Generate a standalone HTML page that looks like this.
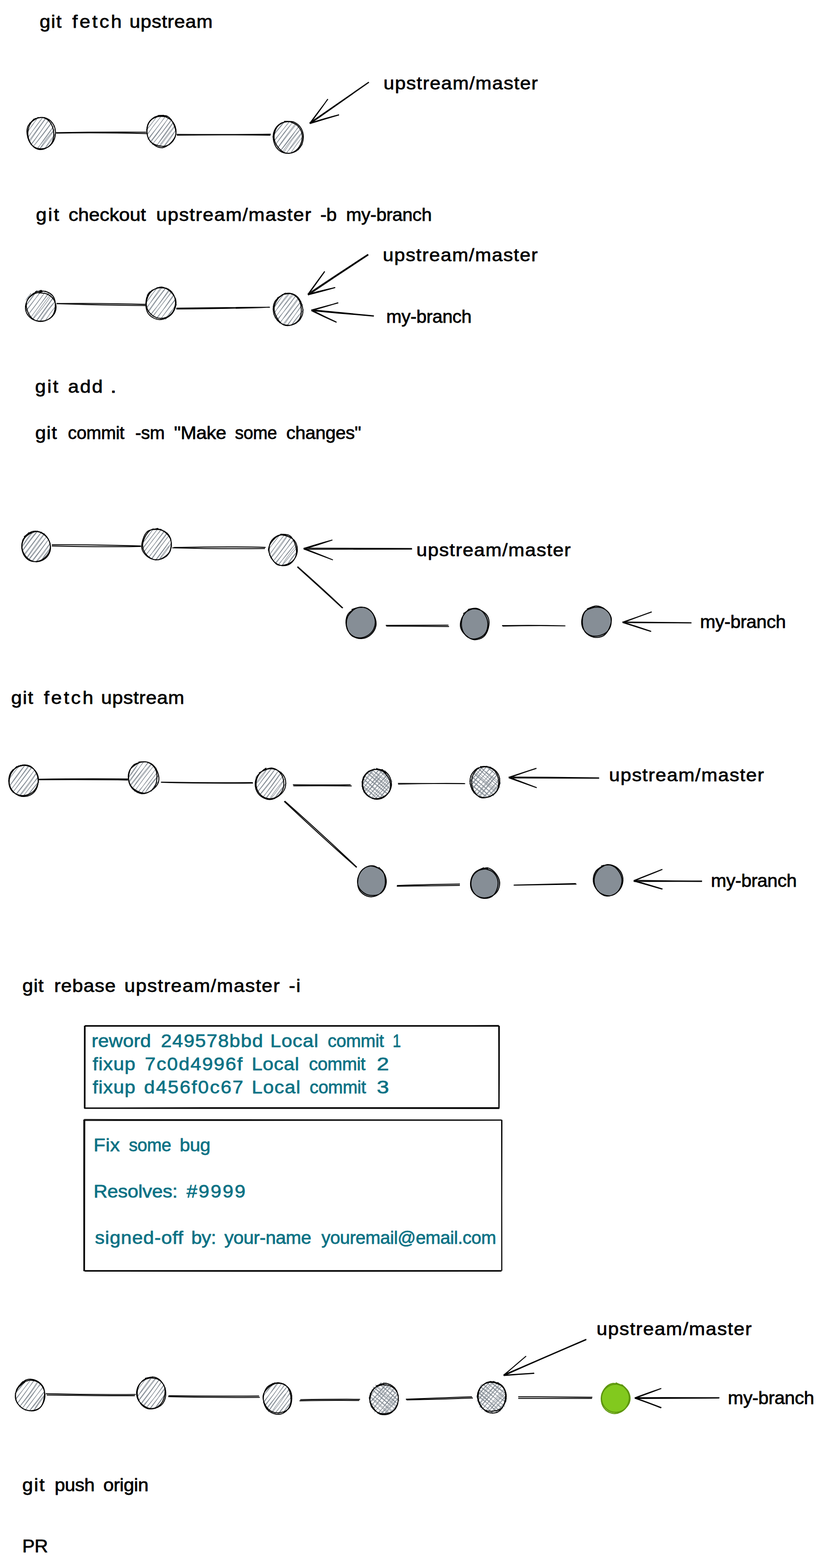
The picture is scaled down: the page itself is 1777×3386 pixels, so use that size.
<!DOCTYPE html>
<html lang="en">
<head>
<meta charset="utf-8">
<title>git workflow</title>
<style>
html,body{margin:0;padding:0;background:#fff}
svg{display:block}
text{font-family:"Liberation Sans",sans-serif;white-space:pre;stroke-width:0.8px;stroke-linejoin:round}
</style>
</head>
<body>
<svg width="1777" height="3386" viewBox="0 0 1777 3386">
<rect width="1777" height="3386" fill="#fff"/>
<text y="60" fill="#000" stroke="#000" font-size="38"><tspan x="85.4" textLength="49.1" lengthAdjust="spacingAndGlyphs" style="letter-spacing:1.49px">git</tspan> <tspan x="156" textLength="110.9" lengthAdjust="spacingAndGlyphs" style="letter-spacing:3.69px">fetch</tspan> <tspan x="279.5" textLength="180.4" lengthAdjust="spacingAndGlyphs" style="letter-spacing:0.7px">upstream</tspan></text>
<path d="M120.3 286.4C195.1 285.3 239.3 285.1 315.8 285.5M121.4 287.4C186.5 286.4 255 286.8 316.8 288.5" stroke="#000" stroke-width="2" fill="none"/>
<path d="M382 292.1C444.4 290.8 509.4 290.8 583.9 292.1M381.3 290.2C463.7 290.9 510.8 290.8 584.7 289.7" stroke="#000" stroke-width="2" fill="none"/>
<path d="M58.6 287.1Q68 270.9 81.2 255.6M58.3 285.5Q70.9 270.5 81.8 252.9M59.7 297.1Q76.5 275.2 92.5 253.7M59.6 298.9Q73.5 277.4 91.9 253.9M63.3 307.1Q82.2 278.8 99.5 255.2M61.8 305.2Q81.7 277.9 99 254.3M65.8 313.4Q85.7 288.1 105.1 258.9M67 313.4Q85.6 288 105.7 258.8M71.3 317Q91.3 291 111.6 264M71.6 316.5Q92.2 292.7 112.1 264.4M79.3 321.9Q100.3 297.6 117.3 270.5M80.3 322.4Q96.4 297.6 116.5 271.5M85.3 322.4Q99.7 298.2 118.5 279M85.6 322.1Q104.2 300.7 119.1 278.2M95.1 322.1Q109.3 307.8 120.1 288.7M95.7 322.4Q106.7 304.3 119.3 288.6" stroke="#868e96" stroke-width="1.2" fill="none"/><path d="M64.2 266.2C67.1 264.3 75.1 256.6 81.2 254.9C87.3 253.1 95 253 100.9 255.6C106.7 258.2 113.3 264.3 116.4 270.7C119.4 277 120.4 286.6 119.2 293.8C117.9 301 113.6 309.2 108.7 313.7C103.9 318.3 96.2 321 89.9 321.3C83.6 321.5 76 319.3 71 315.2C66 311.1 61.9 303.6 60 296.7C58.1 289.9 57.5 280.6 59.7 274C61.9 267.4 71.1 259.9 73.4 257.1M75.7 256.1C78.6 255.8 87.8 252.6 93.3 254C98.7 255.4 104.7 259.4 108.4 264.5C112.2 269.7 115.1 277.7 115.8 284.9C116.5 292 115.5 301.4 112.5 307.4C109.5 313.3 103.3 318.2 98 320.6C92.7 323 86 323.9 80.6 321.9C75.3 320 69.3 314.8 65.9 309C62.4 303.1 59.9 294.2 60.1 286.9C60.2 279.6 63.2 270.7 66.9 265.2C70.6 259.7 79.8 255.6 82.4 253.7" stroke="#000" stroke-width="2" fill="none" stroke-linecap="round" stroke-linejoin="round"/>
<path d="M315.9 281.8Q330.4 263.6 340.2 249.7M315.2 280.8Q329.6 266 339.1 250M318 290.9Q331.8 269.7 349.4 249.6M317.5 290.5Q334.5 267.4 350.1 248.5M320.7 300.6Q338 277.3 358.8 249.1M318.7 301Q338.9 276.3 358 250.7M325.6 306.5Q346.8 280.5 365.1 252.3M323.2 308.1Q342.1 283.4 363.9 255M328.4 312.3Q349.9 286.5 370.9 257.3M327.9 312.9Q351.2 285.7 371.3 258.3M337 315.5Q357.6 291.3 374.4 264.4M336.3 317.3Q355.9 288.4 374.3 263.3M343.3 318.8Q362.9 293.2 378.6 272M342 317.5Q357.4 296.3 377.5 271.1M350.5 320.5Q364.6 299.9 380.9 279.1M351.9 319.2Q367.8 301.8 379.9 280M365.9 313.6Q371.8 303.6 378.8 295.4M365.3 314.3Q369.9 306.1 378.2 295.1" stroke="#868e96" stroke-width="1.2" fill="none"/><path d="M341.3 249.4C344.6 249.7 355.9 247.9 361.5 251C367.1 254.1 371.9 261.4 374.9 268C377.9 274.6 380.6 283.7 379.4 290.6C378.2 297.5 372.7 304.9 367.7 309.6C362.7 314.4 355.7 318.7 349.5 319C343.3 319.3 335.8 315.6 330.6 311.3C325.4 306.9 320.3 299.9 318.3 292.9C316.4 286 316.5 276 319 269.3C321.6 262.7 328 256.3 333.7 252.9C339.4 249.5 350.1 249.6 353.4 249M353.3 250C356.1 251.7 366 255.4 370.4 260.2C374.8 265 378.6 272.1 379.6 278.7C380.7 285.3 379.5 294 376.4 299.9C373.4 305.8 367.1 311.6 361.2 314.1C355.4 316.5 347.8 316.1 341.6 314.5C335.3 312.9 327.8 309.6 323.8 304.4C319.7 299.2 317.5 290.4 317.4 283.4C317.4 276.3 319.5 267.5 323.5 262.2C327.4 256.9 334.9 253.3 341.1 251.7C347.3 250.1 357.3 252.3 360.6 252.5" stroke="#000" stroke-width="2" fill="none" stroke-linecap="round" stroke-linejoin="round"/>
<path d="M588.6 294.4Q602.6 278 613.5 264.1M588.2 296.6Q599 277.8 613.9 263.5M590.4 305.3Q609.5 281.6 625.6 262.1M591.6 305.3Q607.7 283.7 625.4 261.6M593.7 314.1Q611.6 286.8 633.3 262.8M593.1 314.3Q614.2 287.6 632.7 263M598.2 320.9Q616.1 294.7 638.7 266.2M599.3 320.4Q617.7 295.9 640 268.2M604.8 326.9Q626.1 301.7 645.5 271.7M604.4 326.9Q624.9 298.7 646.4 272M609.9 327.9Q628.7 300.1 650.8 276.4M611.9 330.2Q630 302.3 650.6 276.5M617.8 330.9Q637.9 308.7 653.1 285.9M618.1 332.4Q633.2 307.7 653.3 284.2M628.4 329.9Q640.9 309.4 655.8 293.1M628.1 329.5Q639.9 312.1 654.4 293.9M643.7 324.4Q648 317.3 653.4 311.9M644.3 323Q646.6 318.8 653.5 311.3" stroke="#868e96" stroke-width="1.2" fill="none"/><path d="M614.3 262C617.8 262.3 629.1 261.1 635.3 263.9C641.4 266.8 648.1 272.7 651.3 279.1C654.5 285.5 655.8 295.1 654.5 302.3C653.3 309.6 649.1 317.9 644 322.7C638.9 327.5 630.8 330.5 624 330.9C617.2 331.4 608.8 329.4 603.3 325.2C597.8 321 593 313 591.2 305.9C589.3 298.8 589.6 289.3 592.2 282.7C594.8 276.1 600.9 269.5 606.7 266.2C612.5 262.8 623.5 263.1 626.9 262.5M625.1 262.4C627.9 263.8 637.6 266.5 642.1 271.1C646.6 275.7 651.1 283.1 652.3 289.9C653.4 296.7 651.7 305.6 648.9 311.9C646.1 318.1 640.8 324.2 635.4 327.3C630 330.4 622.3 331.9 616.6 330.4C610.8 328.9 604.9 323.7 600.8 318.4C596.6 313 592.4 305.3 591.8 298.3C591.2 291.2 593.5 281.7 597.2 276C600.8 270.2 607.7 266.1 613.6 263.9C619.5 261.7 629.4 263.2 632.5 263" stroke="#000" stroke-width="2" fill="none" stroke-linecap="round" stroke-linejoin="round"/>
<path d="M796.7 177.7C749.5 211.1 707.4 240.7 669.4 267.3M796.2 177.3C751.8 207.7 708.4 237.7 668.3 265.9" stroke="#000" stroke-width="2" fill="none"/><path d="M668.6 266.5C683.2 247 693 234 708.1 214M669.7 266.6C686.9 243.5 695.3 231.8 707.6 214.1" stroke="#000" stroke-width="2" fill="none"/><path d="M669.6 266.9C695.8 258.7 711.6 254 731.8 248.4M669 265.9C692.4 258.5 711 253.1 732.1 247.6" stroke="#000" stroke-width="2" fill="none"/>
<text y="192.5" fill="#000" stroke="#000" font-size="38"><tspan x="828" textLength="334.7" lengthAdjust="spacingAndGlyphs" style="letter-spacing:1.28px">upstream/master</tspan></text>
<text y="477" fill="#000" stroke="#000" font-size="38"><tspan x="77.6" textLength="53" lengthAdjust="spacingAndGlyphs" style="letter-spacing:2.68px">git</tspan> <tspan x="147.9" textLength="167.3" lengthAdjust="spacingAndGlyphs">checkout</tspan> <tspan x="337.2" textLength="336.2" lengthAdjust="spacingAndGlyphs" style="letter-spacing:1.37px">upstream/master</tspan> <tspan x="691.4" textLength="35.5" lengthAdjust="spacingAndGlyphs" style="letter-spacing:-0.4px">-b</tspan> <tspan x="747.3" textLength="184.6" lengthAdjust="spacingAndGlyphs" style="letter-spacing:-0.4px">my-branch</tspan></text>
<path d="M122.3 655.6C201.1 654.9 244.6 655.3 314 657.2M122.1 655.7C187.8 658.1 238.8 659.2 314.2 659.7" stroke="#000" stroke-width="2" fill="none"/>
<path d="M380.8 665.5C467.9 664.4 518.7 663.9 582.8 663.5M380.6 667.3C455.5 666.9 528.6 665.5 581.4 663.4" stroke="#000" stroke-width="2" fill="none"/>
<path d="M55.7 647.6Q62.4 641.2 66.6 633.2M56.4 647.1Q59.9 641.4 67.1 634.3M54.3 663.2Q66.6 646.6 80.6 627.4M54 662.5Q67.2 643.7 79.8 626.6M57.1 671.1Q72.4 650.7 88.9 627.8M55.4 671.3Q73.5 648.3 90.9 626.8M60.2 680.4Q81.9 653.3 99.7 627.3M60.5 679.4Q81.7 652.5 98.2 629.3M65.8 686.2Q84.2 661 106.9 631.6M66.3 685.4Q87.3 657.1 105.5 631.5M72 688.4Q93.7 664.4 112 636.4M69.5 690.3Q89.9 660.2 109.7 634.8M79.3 693.1Q99.1 665.5 116.3 641.8M77.4 694Q97.9 665.2 115.4 641.3M87.7 693.6Q102.3 672.2 119.5 650.5M86.5 692.9Q100.9 669.9 119.7 650M97.9 691.8Q108.8 676.1 121 660.5M98 693.6Q107.3 675.9 121.4 660.4" stroke="#868e96" stroke-width="1.2" fill="none"/><path d="M76.7 629.9C80.1 629.7 90.8 627.2 97.1 629C103.5 630.7 111.3 634.8 115 640.3C118.7 645.7 119.7 654.7 119.4 661.6C119 668.6 117.1 676.9 113 682.2C109 687.4 101.6 691.8 95.1 693.3C88.6 694.7 80 694.1 74.2 690.9C68.4 687.7 63.2 680.7 60.4 674.3C57.6 667.9 55.8 659 57.4 652.4C59 645.9 64.8 639.4 70.1 635.2C75.4 630.9 85.8 628.4 89 627M83.1 632.2C86.4 632.7 97.3 632.6 103 635.5C108.7 638.3 114.5 643.7 117.4 649.3C120.3 655 121.9 663.1 120.5 669.3C119.1 675.6 114.3 682.7 109 686.7C103.8 690.8 95.7 693.3 88.9 693.6C82.1 693.8 73.8 691.9 68.2 688.1C62.7 684.4 57.5 677.4 55.8 671.2C54.1 665 55.3 656.9 57.8 651.1C60.3 645.2 65.5 639.6 71.1 636.1C76.6 632.6 87.8 630.9 91.1 629.8" stroke="#000" stroke-width="2" fill="none" stroke-linecap="round" stroke-linejoin="round"/>
<path d="M317.1 638.3Q320.2 631.7 325 628.3M317 637.3Q319.1 635.9 324.9 630M313.8 656Q325.2 638.1 341.1 620.4M313.8 656.3Q328.6 635.9 339.4 620.2M316.5 666.1Q330.5 644.4 348.7 618.5M315 666.1Q331.9 645 351.1 619.4M318.5 674.1Q335.7 648.8 357.8 621M320.3 673.9Q338.6 647 359.5 620.3M325.6 680Q345.3 654.8 365 625.2M323.4 681.2Q346.3 654.3 366.4 626.3M329.4 684.6Q349.2 658.1 372 629M329.2 683.7Q348.7 659.4 369.9 630.3M338.7 687.9Q356.8 663 375 635.9M337.2 687.9Q357.4 663.9 375.9 637.4M346.6 689.2Q363.9 666.6 380.6 645.2M346.8 689.4Q361.1 669.2 378.9 645.1M356.2 688.6Q367.8 674.4 382.1 657M357.1 690.3Q370 675.3 379.6 656.9" stroke="#868e96" stroke-width="1.2" fill="none"/><path d="M327.6 627.2C331.1 626 341.6 619.6 348.3 620C355.1 620.4 362.7 624.9 367.9 629.7C373.2 634.5 378.4 642 379.7 648.9C380.9 655.8 378.8 665.1 375.5 671.3C372.2 677.6 365.9 683.3 359.7 686.3C353.6 689.3 345.1 691 338.5 689.4C331.8 687.8 323.8 682.7 319.9 677C316 671.2 314.8 662.2 315 654.9C315.2 647.7 317.1 639.1 321.2 633.5C325.3 628 336.5 623.5 339.5 621.5M343.3 621.2C346.6 621.7 357.4 620.9 363 624.1C368.6 627.4 374.3 634.2 376.7 640.7C379.1 647.2 379.4 656.2 377.6 663C375.9 669.8 371.3 677.3 366.1 681.4C361 685.5 353.1 687.6 346.7 687.4C340.3 687.3 333 684.5 328 680.3C322.9 676.2 318 669 316.5 662.5C315 656 316.5 647.3 319.1 641.1C321.6 634.9 326.6 628.8 331.9 625.4C337.2 621.9 347.7 621 350.9 620.2" stroke="#000" stroke-width="2" fill="none" stroke-linecap="round" stroke-linejoin="round"/>
<path d="M590.1 667.1Q602.3 650 613 633.9M588.6 668Q599.3 652 614.5 633.5M590.4 676.9Q608.7 654.8 625.6 633.7M590.4 679.5Q605.6 653.6 624.7 631.9M593.6 687.2Q611 661.9 631.9 633.5M593.7 686.6Q612.3 660.3 634.2 635.4M597.3 691.1Q619.6 666.4 638.9 638.7M597.7 693.3Q616.9 666.8 638 639.1M602.9 698.1Q625 672.9 645.7 644.1M604.4 697.9Q624.7 668.1 644.3 642.9M610.4 701Q631.4 674.6 649.2 651.2M612.5 702.4Q630.7 675.8 650.7 650.4M620.3 704Q635.8 680.1 653.9 657.4M619 703.2Q638.2 679.7 652.5 656.5M629.5 703.3Q642.1 684.2 655.7 669.3M628.8 702.1Q643 683 655.6 668.5M645.4 693.4Q649.4 691.1 650.8 684.9M644.7 694.8Q647.3 690.8 648.9 684.8" stroke="#868e96" stroke-width="1.2" fill="none"/><path d="M598.9 643.7C602.1 642 611.3 634.5 618 633.6C624.6 632.7 633.2 634.5 638.7 638.2C644.2 642 648.8 649.5 651.2 656.3C653.6 663.1 655 672.2 653.2 679C651.3 685.8 645.7 693.3 640.2 697.2C634.6 701.1 626.5 702.9 619.9 702.3C613.4 701.7 605.9 698.4 601 693.7C596.1 688.9 591.8 681.2 590.5 674.1C589.3 667 590.3 657.4 593.5 651.2C596.7 644.9 607.1 639 609.9 636.6M609.4 636.2C612.4 635.9 622 632.8 627.7 634.3C633.4 635.7 639.8 639.9 643.6 645.1C647.4 650.3 649.9 658.4 650.4 665.5C651 672.6 650.3 681.7 647.1 687.7C643.9 693.6 637.1 698.7 631.3 701C625.5 703.3 617.5 703.9 612 701.4C606.4 698.9 601.4 692.4 598 686.3C594.7 680.2 591.5 671.9 591.9 665C592.3 658.1 596.4 650.2 600.5 644.9C604.5 639.6 613.5 635 616.1 633" stroke="#000" stroke-width="2" fill="none" stroke-linecap="round" stroke-linejoin="round"/>
<path d="M795.5 550.4C749 581 709.9 607 665.3 637.1M794.7 549.2C749.6 578.3 706.4 606.9 664.7 635" stroke="#000" stroke-width="2" fill="none"/><path d="M664.9 635.5C679 615.8 688.7 602.5 701.1 585.9M665.3 636.4C677.7 619.3 689.5 602.8 700.8 586.8" stroke="#000" stroke-width="2" fill="none"/><path d="M664.9 636.7C688.8 630.7 704.2 626.6 723.6 621M664.5 635.4C689.5 628.9 707.9 624.5 723.8 621.1" stroke="#000" stroke-width="2" fill="none"/>
<path d="M807.2 682.7C748.4 677.9 724.3 675.7 672.6 670.8M807.3 682C758.4 677.2 714 672.9 672.4 669.1" stroke="#000" stroke-width="2" fill="none"/><path d="M672.5 669.4C697.8 662.6 708 659.9 730.5 654M673 670.5C698 663.6 715.2 658.5 729.7 653.8" stroke="#000" stroke-width="2" fill="none"/><path d="M672.4 670.8C695.8 682.3 705.5 686.8 726.7 696.2M673 669.5C690.3 678.5 707.8 687 726.2 695.5" stroke="#000" stroke-width="2" fill="none"/>
<text y="563.5" fill="#000" stroke="#000" font-size="38"><tspan x="826.5" textLength="335.8" lengthAdjust="spacingAndGlyphs" style="letter-spacing:1.35px">upstream/master</tspan></text>
<text y="697" fill="#000" stroke="#000" font-size="38"><tspan x="834.1" textLength="183.9" lengthAdjust="spacingAndGlyphs" style="letter-spacing:-0.4px">my-branch</tspan></text>
<text y="848" fill="#000" stroke="#000" font-size="38"><tspan x="75.7" textLength="53.1" lengthAdjust="spacingAndGlyphs" style="letter-spacing:2.72px">git</tspan> <tspan x="147.1" textLength="77.3" lengthAdjust="spacingAndGlyphs" style="letter-spacing:2.28px">add</tspan> <tspan x="238.1" textLength="13.7" lengthAdjust="spacingAndGlyphs">.</tspan></text>
<text y="948" fill="#000" stroke="#000" font-size="38"><tspan x="76" textLength="48.2" lengthAdjust="spacingAndGlyphs" style="letter-spacing:1.22px">git</tspan> <tspan x="146.5" textLength="121.9" lengthAdjust="spacingAndGlyphs" style="letter-spacing:-0.4px">commit</tspan> <tspan x="292" textLength="63.4" lengthAdjust="spacingAndGlyphs" style="letter-spacing:-0.4px">-sm</tspan> <tspan x="375.8" textLength="112.7" lengthAdjust="spacingAndGlyphs" style="letter-spacing:-0.4px">&quot;Make</tspan> <tspan x="507.2" textLength="90.8" lengthAdjust="spacingAndGlyphs" style="letter-spacing:-0.4px">some</tspan> <tspan x="618.1" textLength="161.5" lengthAdjust="spacingAndGlyphs" style="letter-spacing:-0.4px">changes&quot;</tspan></text>
<path d="M112 1178.9C176.5 1180.6 253 1181 304.5 1179.9M112 1176.2C187.6 1176.1 232 1176.8 304.3 1178.9" stroke="#000" stroke-width="2" fill="none"/>
<path d="M372.1 1183C448.1 1184.9 512 1185.3 572 1184.4M375.4 1182.3C463 1180.7 521.3 1180.6 573.5 1181.9" stroke="#000" stroke-width="2" fill="none"/>
<path d="M48.1 1166.4Q51.4 1161.7 58.4 1154M49.7 1165.1Q52.9 1161.4 57.6 1153.4M46.9 1182.2Q59.5 1163.9 72.3 1147.7M46.9 1181.8Q56.6 1164.5 70.3 1147.4M47.9 1190.9Q63.6 1168.6 81.4 1147M47.8 1189.7Q63.7 1165.6 81.2 1145.6M52.4 1199.6Q70.8 1175.2 89.1 1150M50.5 1199.2Q68.6 1175.8 90.1 1147.9M56.6 1206Q75.5 1176.7 96.1 1151.4M57.8 1205.7Q77.9 1178.4 96.6 1152.3M62.1 1209.1Q81.9 1186.1 100.4 1158.7M61.3 1209.2Q79.2 1183.8 101.8 1157.6M70.5 1211.9Q88 1188.6 106 1163.3M68.8 1211.3Q88 1187.8 105.3 1164.2M78.2 1214.2Q96 1194.4 109.1 1172.3M77.7 1212.9Q91.7 1195.2 108.1 1173M88.6 1211.5Q96.9 1196.5 108.6 1183.6M89 1210.4Q97.6 1200 108.4 1185.7" stroke="#868e96" stroke-width="1.2" fill="none"/><path d="M52.4 1158.8C55.3 1156.9 63.8 1149.1 70 1147.7C76.2 1146.2 83.7 1147.2 89.4 1149.9C95.1 1152.6 100.9 1158 104.1 1164C107.2 1169.9 109.5 1178.9 108.3 1185.6C107.2 1192.2 102.1 1199.3 97.3 1203.8C92.5 1208.3 85.8 1211.8 79.5 1212.5C73.3 1213.2 65.1 1211.8 59.8 1207.9C54.6 1204.1 49.9 1196.3 48.1 1189.5C46.3 1182.8 46.8 1173.8 49.1 1167.3C51.5 1160.7 60 1153.1 62.2 1150.3M61.2 1154C64.3 1153 74 1147.4 80.1 1147.9C86.2 1148.3 93.1 1152.4 97.8 1156.8C102.4 1161.1 106.7 1167.6 108.2 1173.9C109.6 1180.3 109.2 1188.8 106.5 1194.7C103.9 1200.7 98 1206.7 92.3 1209.7C86.6 1212.6 78.5 1213.8 72.4 1212.4C66.3 1211.1 59.8 1206.5 55.7 1201.5C51.5 1196.6 48.2 1189.3 47.6 1182.9C47.1 1176.5 49 1168.4 52.4 1162.9C55.7 1157.4 65.2 1151.9 67.7 1149.7" stroke="#000" stroke-width="2" fill="none" stroke-linecap="round" stroke-linejoin="round"/>
<path d="M306.4 1174.8Q318.3 1158.5 331.4 1142.3M306.5 1174.4Q320.2 1159.7 331.1 1140.6M305.8 1186.1Q323.5 1164.5 341 1141.4M307.8 1186Q322.8 1165 340.6 1142.1M311.1 1192.4Q328.4 1166.2 350.1 1142.2M310.1 1192.1Q330.3 1166.5 348.5 1142.4M314.1 1200Q333.9 1174.5 356.5 1145.9M314.6 1198.5Q335.9 1173.2 354.2 1146.6M320.8 1203.3Q342.2 1178.3 362.3 1150.1M321.5 1204Q339.1 1179 360.4 1150.7M328.2 1206.8Q346.4 1179.7 365.3 1155.8M325.9 1208Q344.4 1181.8 365 1155.8M335.5 1209.6Q353.9 1185.3 368.7 1165.3M336.1 1210.3Q354.6 1187.4 369.9 1163.1M342.5 1210Q354.9 1189.4 371.2 1172.4M343.2 1209.5Q358.8 1192.3 370.3 1172.1M358.1 1203.3Q365.6 1197.2 369.2 1188.2M357.9 1202.1Q364.7 1194.7 369 1187.8" stroke="#868e96" stroke-width="1.2" fill="none"/><path d="M327.6 1143.5C331.1 1143.6 342.2 1142.2 348.5 1144.5C354.8 1146.8 362 1151.5 365.5 1157.2C369 1162.9 370.2 1171.6 369.6 1178.5C368.9 1185.4 365.9 1193.5 361.4 1198.5C356.9 1203.5 349.1 1207.5 342.5 1208.4C335.8 1209.4 327.5 1207.6 321.6 1204.1C315.7 1200.6 309.3 1193.9 307.1 1187.5C304.9 1181.1 306.3 1172.3 308.4 1165.5C310.4 1158.8 314.1 1150.8 319.4 1146.8C324.7 1142.8 336.9 1142.6 340.4 1141.8M339.1 1141C342.1 1142.4 352 1145.4 357 1149.7C362 1153.9 367.1 1160.1 368.9 1166.5C370.7 1172.9 370.3 1182 367.8 1188.1C365.4 1194.2 359.6 1199.8 354.2 1203.3C348.9 1206.7 341.8 1209.5 335.7 1208.9C329.6 1208.3 322.4 1204.5 317.8 1199.8C313.2 1195 309 1187.2 308.2 1180.5C307.4 1173.8 310 1165.6 313.1 1159.5C316.2 1153.3 321.1 1146.5 326.7 1143.8C332.3 1141.1 343.3 1143.2 346.6 1143.1" stroke="#000" stroke-width="2" fill="none" stroke-linecap="round" stroke-linejoin="round"/>
<path d="M577.9 1188.4Q593.3 1170.2 605.1 1153.4M579.1 1187.9Q592 1170.1 605.5 1153.1M581.7 1197.7Q598.6 1174.3 615.5 1153.2M580.8 1199.6Q597.1 1176 615 1154.2M584.4 1206.2Q604.8 1182.1 622.9 1154.1M584.2 1204.6Q601.4 1181.4 621.6 1154M589.4 1213Q610.3 1186.9 630 1159.5M589.5 1212.5Q610.3 1185.2 629.4 1158.3M594 1216.3Q615.7 1191.6 633.4 1165.4M594.7 1218.1Q613.9 1190.5 635.5 1164.8M601.4 1220.2Q618.2 1196.6 639.4 1172.4M600.6 1219.3Q622.3 1195.1 639.8 1171.4M609 1222Q625.8 1200.6 643 1180M608.2 1222.2Q622.1 1197.5 640.9 1177.7M619 1221.7Q628.4 1204.1 641.5 1191.4M620.7 1219.6Q629.8 1205.9 643.3 1189.5" stroke="#868e96" stroke-width="1.2" fill="none"/><path d="M606.5 1153.5C609.7 1154.1 620.6 1153.2 625.7 1156.9C630.9 1160.5 634.9 1168.5 637.2 1175.3C639.5 1182.2 641.1 1191.3 639.5 1198.2C637.9 1205.2 632.6 1213 627.5 1216.8C622.4 1220.7 614.8 1222 608.8 1221.4C602.9 1220.7 596.4 1217.5 591.8 1212.9C587.3 1208.3 582.7 1200.9 581.4 1193.9C580.1 1186.9 581.2 1177.2 584.2 1171C587.2 1164.8 593.7 1159.6 599.3 1156.9C604.9 1154.2 614.8 1155 617.9 1154.7M618.4 1157C621.3 1158.7 631.7 1162 635.7 1167.1C639.6 1172.2 642 1180.8 642 1187.5C642 1194.2 639.3 1202.2 635.6 1207.4C631.8 1212.6 625.5 1216.6 619.5 1218.7C613.6 1220.7 605.5 1222 599.9 1219.7C594.4 1217.4 589.5 1210.6 586.1 1204.7C582.8 1198.9 579.4 1191.1 580 1184.7C580.6 1178.3 585.4 1171.3 589.7 1166.4C594.1 1161.5 600.3 1156.4 606.2 1155.3C612.2 1154.1 622.3 1158.8 625.5 1159.5" stroke="#000" stroke-width="2" fill="none" stroke-linecap="round" stroke-linejoin="round"/>
<path d="M889.7 1185.8C798.5 1186.2 715.5 1186.4 656.3 1186.2M889.5 1184.4C798.4 1183.9 718.1 1183.7 656.1 1183.8" stroke="#000" stroke-width="2" fill="none"/><path d="M655.3 1184.5C681.6 1176.2 700 1170.8 717.4 1166.2M656.4 1185.7C678.1 1179.2 694.1 1174.1 717.7 1166" stroke="#000" stroke-width="2" fill="none"/><path d="M655.7 1185.3C676.6 1193.2 696 1200.5 718.8 1209.1M656.4 1184.4C680.7 1193.7 702.4 1202.3 718.8 1209.2" stroke="#000" stroke-width="2" fill="none"/>
<text y="1201" fill="#000" stroke="#000" font-size="38"><tspan x="899" textLength="334.7" lengthAdjust="spacingAndGlyphs" style="letter-spacing:1.28px">upstream/master</tspan></text>
<path d="M642.5 1223.4C673 1250.3 716.3 1290 740.4 1312.9M642.1 1224.4C679 1257.7 700.9 1277.6 739.2 1313" stroke="#000" stroke-width="2" fill="none"/>
<ellipse cx="779.5" cy="1345" rx="32.3" ry="33.3" fill="#868e96"/><path d="M753.7 1323.9C756.7 1322 765.2 1314.3 771.7 1312.6C778.2 1310.9 786.9 1310.8 792.8 1313.6C798.8 1316.4 804.5 1323.2 807.6 1329.5C810.8 1335.8 812.9 1344.6 811.7 1351.5C810.5 1358.3 805.6 1366.1 800.4 1370.7C795.2 1375.3 787.2 1378.7 780.4 1379C773.6 1379.3 764.8 1376.9 759.5 1372.7C754.3 1368.4 750.2 1360.3 748.7 1353.5C747.2 1346.8 748 1338.4 750.5 1332.1C753 1325.9 761.7 1318.7 763.9 1316M759.7 1316.1C763 1315.3 773 1310.6 779.5 1311C786 1311.4 793.9 1313.9 798.9 1318.3C803.9 1322.6 808.2 1330.2 809.5 1336.9C810.9 1343.5 809.8 1352.3 806.9 1358.4C804 1364.4 798 1370.2 792.1 1373.4C786.3 1376.5 778.1 1378.3 771.7 1377.1C765.3 1375.9 757.9 1371.2 753.8 1366.1C749.7 1361 747.5 1353 747.1 1346.3C746.7 1339.7 748.1 1331.7 751.4 1326.2C754.8 1320.7 764.5 1315.6 767.2 1313.5" stroke="#000" stroke-width="2" fill="none" stroke-linecap="round" stroke-linejoin="round"/>
<ellipse cx="1025" cy="1347.5" rx="30.8" ry="33.3" fill="#868e96"/><path d="M1001.1 1324.7C1004.2 1323.1 1013.3 1316 1019.7 1315C1026.1 1314 1033.8 1315.6 1039.6 1318.7C1045.4 1321.9 1051.8 1327.8 1054.3 1333.9C1056.8 1340.1 1056.2 1348.8 1054.6 1355.6C1053 1362.4 1049.6 1370.3 1044.5 1374.7C1039.5 1379 1030.8 1381.9 1024.3 1381.5C1017.9 1381 1010.8 1376.5 1005.8 1372C1000.8 1367.4 995.7 1360.7 994.4 1354.2C993.1 1347.8 995.2 1339.4 998 1333.2C1000.9 1326.9 1009 1319.3 1011.2 1316.5M1012.1 1315.5C1015.3 1315.2 1025.4 1312.3 1031.1 1314.1C1036.7 1315.9 1042.5 1320.9 1046.2 1326.3C1049.9 1331.6 1053 1339.4 1053.3 1346.2C1053.6 1353 1051.6 1361.8 1048.1 1367.1C1044.6 1372.5 1037.9 1376.5 1032.3 1378.3C1026.6 1380.2 1019.5 1380.4 1014.2 1378.1C1008.8 1375.8 1003.2 1370.2 1000.2 1364.5C997.2 1358.8 995.9 1350.7 996.4 1344C996.9 1337.2 999.3 1329.1 1003.1 1324.3C1007 1319.4 1016.8 1316.4 1019.5 1314.8" stroke="#000" stroke-width="2" fill="none" stroke-linecap="round" stroke-linejoin="round"/>
<ellipse cx="1288" cy="1342.5" rx="31.8" ry="33.3" fill="#868e96"/><path d="M1267.8 1314.9C1271.1 1313.8 1281.1 1308.4 1287.6 1308.5C1294 1308.6 1301.2 1311.6 1306.5 1315.7C1311.8 1319.8 1317.9 1326.6 1319.5 1333.2C1321.1 1339.8 1318.8 1348.8 1316.1 1355.4C1313.3 1362 1308.7 1369.3 1303 1372.8C1297.3 1376.2 1288.5 1377.3 1281.9 1375.9C1275.3 1374.6 1267.5 1370 1263.4 1364.6C1259.4 1359.1 1257.5 1350.3 1257.3 1343.2C1257.2 1336.1 1258.8 1327.5 1262.4 1322C1266.1 1316.5 1276.7 1312 1279.5 1310M1275.5 1312.1C1279.1 1312.1 1290.3 1310 1296.8 1311.9C1303.3 1313.7 1310.5 1318 1314.4 1323.2C1318.2 1328.3 1320 1336.3 1319.8 1342.7C1319.6 1349.1 1317.2 1356.7 1313.2 1361.6C1309.2 1366.5 1302.2 1370.4 1295.9 1372.1C1289.5 1373.9 1281 1374.5 1275 1372.2C1268.9 1369.8 1262.4 1363.8 1259.3 1358.2C1256.2 1352.5 1255.5 1344.7 1256.3 1338.2C1257.1 1331.7 1259.6 1323.7 1264.2 1319.2C1268.8 1314.7 1280.5 1312.7 1283.8 1311.4" stroke="#000" stroke-width="2" fill="none" stroke-linecap="round" stroke-linejoin="round"/>
<path d="M832.9 1350.6C886.3 1350.4 930.1 1350.3 968.3 1350.1M834.2 1351.9C880.1 1352.1 920.2 1352.5 969.5 1353.1" stroke="#000" stroke-width="2" fill="none"/>
<path d="M1085.3 1351.9C1125.9 1351 1183.5 1350.8 1220.7 1351.4M1084 1351C1128.4 1350.4 1181.1 1350.6 1219.7 1351.5" stroke="#000" stroke-width="2" fill="none"/>
<path d="M1493 1344.7C1430.3 1343.9 1390.7 1343.5 1344.2 1343.3M1493 1345.2C1441.2 1344.6 1385.6 1344.4 1345.1 1344.5" stroke="#000" stroke-width="2" fill="none"/><path d="M1343.8 1343.6C1366.5 1336 1383.6 1330 1407.2 1321.2M1344.5 1344.7C1369.8 1334.9 1389.6 1327.6 1407.1 1321.5" stroke="#000" stroke-width="2" fill="none"/><path d="M1344.6 1344.3C1367.8 1351.7 1386.3 1357.5 1406 1363.8M1344.8 1343.5C1370.6 1351.5 1381.6 1355.1 1405.5 1363.1" stroke="#000" stroke-width="2" fill="none"/>
<text y="1356" fill="#000" stroke="#000" font-size="38"><tspan x="1511.6" textLength="184.9" lengthAdjust="spacingAndGlyphs" style="letter-spacing:-0.4px">my-branch</tspan></text>
<text y="1520" fill="#000" stroke="#000" font-size="38"><tspan x="24.1" textLength="49.1" lengthAdjust="spacingAndGlyphs" style="letter-spacing:1.49px">git</tspan> <tspan x="94.7" textLength="110.9" lengthAdjust="spacingAndGlyphs" style="letter-spacing:3.69px">fetch</tspan> <tspan x="218.2" textLength="180.4" lengthAdjust="spacingAndGlyphs" style="letter-spacing:0.7px">upstream</tspan></text>
<path d="M84.1 1683.8C149.6 1683.1 212.8 1683.3 276.2 1684.4M83.8 1682.7C148.6 1681.7 219.6 1681.5 277.7 1682.2" stroke="#000" stroke-width="2" fill="none"/>
<path d="M347.6 1688.9C417 1690.1 473.6 1690.4 545.6 1690.1M347.6 1689.5C408.8 1691 482.2 1691.5 546.3 1690.9" stroke="#000" stroke-width="2" fill="none"/>
<path d="M632.5 1694.4C684.4 1695.3 724.8 1695.4 757.1 1694.5M633.4 1697.1C684 1696.7 714.1 1696.7 759.4 1697.2" stroke="#000" stroke-width="2" fill="none"/>
<path d="M24.5 1668Q25.3 1667.3 26.8 1662.2M22.7 1667.1Q25.8 1666.4 27.9 1661M17.6 1686.8Q29 1667.3 44.3 1651.5M17.6 1686.6Q28.5 1669.4 43.6 1651.7M20.5 1697.9Q38.8 1674.3 55.1 1651.1M20.3 1698Q36.1 1673.3 54.6 1651.4M23.5 1705.5Q44.2 1678.2 61.2 1653.5M24 1705.2Q42 1681.6 62 1655.3M27.2 1711.9Q47.3 1683.6 68.6 1656M29 1709.7Q49.7 1682.4 68 1658.5M33.6 1715.8Q55.7 1689.4 74.6 1662.9M34.7 1716Q56.3 1690 75 1661.8M40.6 1719.9Q59.7 1694.7 78 1669.5M42.9 1719.1Q62.9 1694.8 79.1 1669.6M49.6 1720.2Q65.8 1698.4 83.2 1676.1M49.4 1719.8Q66.4 1698.4 83.4 1677.6M58.7 1718.2Q69.3 1704.6 84 1686.9M58.8 1720.2Q70.3 1703.7 84.7 1687.9" stroke="#868e96" stroke-width="1.2" fill="none"/><path d="M26.3 1664.5C29.3 1662.6 37.8 1654.7 44.3 1653.1C50.7 1651.4 59.3 1651.5 65.2 1654.5C71 1657.6 76.5 1664.8 79.3 1671.3C82.1 1677.8 83.1 1686.5 81.8 1693.5C80.5 1700.4 76.4 1708.4 71.4 1712.8C66.4 1717.3 58.3 1719.9 51.8 1720C45.4 1720.1 37.7 1717.3 32.5 1713.1C27.3 1709 22.3 1701.7 20.7 1695C19 1688.2 20.2 1679.4 22.8 1672.8C25.3 1666.2 33.7 1658.3 35.9 1655.4M33.1 1657.9C36.5 1657.1 46.5 1652.4 53 1652.8C59.6 1653.3 67.4 1656.2 72.4 1660.6C77.3 1665 81.7 1672.7 82.7 1679.3C83.8 1685.9 81.8 1694.2 78.7 1700.1C75.6 1706 69.8 1711.6 64 1714.5C58.2 1717.4 50.2 1718.6 43.8 1717.4C37.3 1716.2 29.5 1712.3 25.4 1707.3C21.2 1702.2 19.2 1693.9 19 1687.1C18.8 1680.4 20.5 1672.6 24 1667.1C27.6 1661.5 37.5 1656 40.1 1653.8" stroke="#000" stroke-width="2" fill="none" stroke-linecap="round" stroke-linejoin="round"/>
<path d="M277.6 1679.4Q291.1 1663.1 300.7 1645M277.1 1679.9Q287.7 1661.8 301.8 1645.8M277.6 1688.4Q294.4 1666 310.2 1645.1M278.9 1689.6Q295.8 1666.1 309.8 1644.5M279.7 1697Q301 1670.2 320.7 1646.4M281.1 1697.7Q300.2 1674.6 319.1 1646.6M285.6 1702.8Q303.8 1674.4 325.9 1650.1M284.9 1703.9Q307.9 1674.6 327.8 1649.7M291.7 1707.7Q310.7 1679.2 332.9 1652.9M289.8 1709.4Q310.9 1680.6 332.5 1652.9M298 1711.8Q318.7 1683.8 338.2 1658.3M295.6 1712.8Q318.8 1687 337.9 1658M304.5 1715.1Q321.4 1690.2 340.8 1666.5M304.9 1713Q322.5 1691.1 340.3 1666.3M311.9 1713.8Q326.1 1694.7 342.5 1675M311.8 1714.3Q325.2 1692 343 1673.5M325.5 1709.5Q332.4 1696 342 1687.1M326.3 1709.8Q332.1 1697.9 341.9 1688.3" stroke="#868e96" stroke-width="1.2" fill="none"/><path d="M286.2 1655.7C289.4 1654 298.3 1646.5 305.1 1645.4C311.8 1644.3 320.7 1645.5 326.5 1649C332.4 1652.6 337.4 1660 340 1666.7C342.6 1673.4 344.1 1682.7 342.1 1689.3C340 1695.9 333.6 1702.3 327.8 1706.4C321.9 1710.5 313.9 1714.4 307.2 1714C300.4 1713.6 292.2 1709.1 287.2 1704.2C282.3 1699.3 278.6 1691.4 277.5 1684.5C276.3 1677.5 277.3 1668.6 280.5 1662.5C283.7 1656.5 294.1 1650.7 296.8 1648.3M299.8 1645.5C303.1 1645.6 313.6 1643.9 319.5 1646.3C325.3 1648.7 331.8 1654 335 1659.8C338.2 1665.6 339.2 1674.1 338.8 1681.1C338.3 1688.1 336.3 1696.5 332.3 1701.7C328.2 1706.9 320.8 1711.4 314.6 1712.4C308.5 1713.4 301.2 1711.1 295.5 1707.9C289.8 1704.7 283.4 1699.5 280.6 1693.3C277.7 1687.2 277.1 1678 278.5 1671C279.8 1664.1 283.8 1656.1 288.7 1651.8C293.5 1647.4 304.3 1646.3 307.4 1645.2" stroke="#000" stroke-width="2" fill="none" stroke-linecap="round" stroke-linejoin="round"/>
<path d="M551.5 1678.7Q559.4 1670.7 564.5 1665.5M551.6 1681.1Q558.7 1674.9 562.7 1666.1M550.9 1693.5Q563.2 1675.9 576.6 1659.8M551.2 1694.6Q566.2 1679.1 577.6 1659.3M551.7 1704.7Q567 1683.1 587 1659.4M552 1705.2Q567.1 1681.3 586.1 1659.4M555.9 1710.3Q575.8 1684.6 594.7 1659.5M556.3 1710.1Q576.2 1687.2 594.9 1659.9M559.7 1717.2Q581.4 1691.1 601.4 1664.2M561.7 1716.1Q583.9 1691.6 602 1663.5M567.1 1723.2Q586.6 1696.2 607.9 1666.4M566.1 1723Q589.1 1696.3 607.1 1668.4M573.1 1724.5Q592.4 1698.8 613.2 1673.1M573.6 1725.9Q593.8 1698.1 612.3 1673.3M582.4 1727.5Q601.4 1705.5 615.8 1680.2M581.6 1725.8Q596.9 1702.6 614.9 1681.8M591.6 1725.3Q602.3 1709.8 616.7 1692.5M592.5 1725.6Q606.4 1706.4 618.4 1690.8" stroke="#868e96" stroke-width="1.2" fill="none"/><path d="M559.7 1668.9C563 1667.5 572.6 1661.2 579.4 1660.4C586.2 1659.6 594.3 1660.8 600.3 1664.1C606.3 1667.4 612.7 1673.8 615.2 1680.2C617.7 1686.6 617.5 1696 615.2 1702.5C612.9 1708.9 607.2 1715 601.5 1719.1C595.8 1723.1 587.8 1726.8 581 1726.5C574.2 1726.2 565.7 1722.2 560.7 1717.4C555.8 1712.5 552.1 1704.4 551.2 1697.6C550.3 1690.8 552.1 1682.6 555.3 1676.6C558.5 1670.6 568.1 1663.9 570.6 1661.3M567.9 1663.6C571.1 1662.7 581 1657.7 587.2 1658.6C593.3 1659.4 600.5 1663.8 604.7 1668.7C609 1673.6 611.8 1681.3 612.5 1687.9C613.3 1694.5 612.1 1702.7 609.1 1708.4C606 1714.2 600.1 1720 594.4 1722.5C588.6 1725 580.6 1725.4 574.7 1723.5C568.7 1721.7 562.4 1716.8 558.7 1711.5C555.1 1706.2 552.7 1698.3 552.8 1691.8C552.9 1685.3 555.5 1677.9 559.1 1672.4C562.7 1666.8 571.9 1661 574.4 1658.7" stroke="#000" stroke-width="2" fill="none" stroke-linecap="round" stroke-linejoin="round"/>
<path d="M782.9 1679.4Q788.1 1672.4 797.3 1665.6M784.1 1677.5Q792 1671.3 795.7 1663.6M782.8 1694.2Q793.9 1674.2 808.5 1659M782.2 1694.8Q796.1 1678.6 808.7 1658.8M781.7 1704.6Q800.2 1681.3 820.4 1661.1M784 1702.9Q800.8 1683.3 818.8 1660.4M784.2 1710.5Q806.4 1689 826.5 1663.5M787.5 1710.2Q805.8 1686.1 826.1 1661.1M790.4 1714.3Q808.9 1688.4 831.5 1667.2M789.5 1714.4Q812.7 1690.8 832.5 1663.7M795 1719.7Q816 1694.3 837.8 1670.5M795.1 1721.1Q815.1 1695.5 838.4 1671.9M801.7 1723.3Q820.1 1698.9 840.3 1674.8M803.1 1725.4Q825.2 1702.3 842.7 1678M807.8 1726.7Q826.8 1707.3 845 1683.4M809.4 1726.6Q828.6 1702.7 843.9 1683.5M818.6 1725.8Q830.8 1710 844.3 1693.4M817.7 1726.1Q829.9 1707.7 846 1692.4M834.2 1717.3Q836.3 1713.5 842.5 1709.3M833.1 1718.7Q837.6 1712 841.4 1709.2M826.2 1662.7Q833.7 1667.8 837.5 1672.4M828.5 1664Q834.2 1667.2 837.6 1674.4M811.6 1658.6Q830.7 1671.5 847.1 1688M813 1658.1Q826.3 1673.2 844.5 1687.3M802.9 1662Q824.7 1681.8 845.4 1697.9M803.9 1662.8Q826.6 1678.3 847 1695.3M797 1666Q820.9 1687.3 842.4 1704.2M797.1 1663.2Q820.9 1684.7 844.1 1703.2M792.8 1669.5Q816.1 1691.2 840 1709.5M791.5 1667.5Q816.9 1686.8 839.2 1709.2M786 1675Q813 1695.2 836.2 1715M787.4 1675.5Q812 1693.2 838.3 1714.5M784.8 1681.8Q808.8 1701.7 829.6 1719.7M783.1 1680.7Q806 1703.2 830 1722.1M780 1687.9Q802.1 1704.6 823.3 1725.8M780.3 1688Q801.7 1705.6 824.2 1724.7M781.7 1695.9Q800.8 1708.7 815 1726M780.1 1697.1Q798 1710 815.9 1725.3M785.2 1710.5Q795.9 1718.2 805.9 1723.2M786.5 1709.9Q794.9 1716.5 804.6 1725.4" stroke="#868e96" stroke-width="1.2" fill="none"/><path d="M813.5 1660C816.9 1661.2 828.5 1663.1 833.6 1667.4C838.8 1671.7 842.9 1679.2 844.3 1685.8C845.7 1692.3 845 1700.9 842.1 1706.8C839.2 1712.7 832.8 1718.3 826.8 1721.2C820.8 1724.1 812.5 1725.5 806.1 1724.1C799.6 1722.7 792.4 1717.9 788.3 1712.8C784.3 1707.6 782.1 1699.7 782 1693.2C781.9 1686.6 784 1678.7 787.8 1673.5C791.7 1668.3 798.7 1663.9 805.1 1662C811.6 1660.2 822.9 1662.3 826.4 1662.3M827.6 1665.9C829.6 1668.5 837.3 1675.1 839.8 1681.1C842.4 1687.1 844.1 1695.6 842.8 1702C841.5 1708.4 836.7 1715.6 831.9 1719.6C827 1723.6 819.8 1726 813.8 1726C807.9 1726 801 1723.4 796.1 1719.5C791.2 1715.7 786.4 1709.1 784.6 1702.7C782.8 1696.3 783 1687.4 785.3 1681.2C787.5 1675 793 1668.6 798.3 1665.4C803.5 1662.2 810.7 1661.3 816.7 1662C822.7 1662.7 831.3 1668.4 834.2 1669.7" stroke="#000" stroke-width="2" fill="none" stroke-linecap="round" stroke-linejoin="round"/>
<path d="M859.3 1691.8C919.6 1691.7 955.6 1691.8 1004.3 1692.3M859.6 1693.3C906 1691.8 951 1691.4 1002.4 1691.9" stroke="#000" stroke-width="2" fill="none"/>
<path d="M1017.3 1671.9Q1023.7 1667.6 1026.3 1661.9M1017.3 1673.1Q1021.1 1669 1029.1 1661.8M1013.6 1687.8Q1029.5 1672.1 1041.7 1655.1M1015.7 1688Q1029.7 1671.5 1042.2 1655.9M1015 1697.2Q1034.1 1674.5 1051.9 1653.5M1015.5 1699.1Q1031 1679.2 1051.3 1655M1020.4 1704.6Q1039.3 1679.3 1060 1658.1M1017.4 1704.9Q1040.5 1680 1060.6 1655.9M1023.1 1712.4Q1043.9 1688 1066.4 1661.3M1021.9 1712.9Q1043.4 1688.8 1066.8 1661.9M1028.4 1716.6Q1048.2 1689.7 1071.6 1667.8M1028.5 1717.9Q1052.9 1690.5 1072.5 1665.7M1033.7 1719.3Q1054.1 1695.4 1074.5 1671M1034.1 1722.6Q1053.1 1698.2 1075.3 1671.3M1042.3 1721.4Q1063.5 1700.7 1079.9 1680M1044 1722.5Q1061.1 1703.7 1080 1680.8M1052.8 1721.3Q1068.4 1703.2 1080.3 1689.4M1052.2 1722.6Q1067.4 1705.6 1081.3 1691.3M1064.1 1717.5Q1071.1 1710.8 1075.6 1702.8M1064.2 1719.5Q1068.2 1713.6 1075.6 1704.1M1048.7 1653.9Q1065.4 1665.8 1078.3 1681M1048.2 1655.1Q1065.4 1666.7 1078.7 1681.3M1036.9 1657.2Q1060.8 1676.3 1081 1690.5M1036.7 1654.5Q1055.1 1676 1078.3 1693.4M1031.7 1657.7Q1052.4 1677.8 1077.2 1699.6M1032.4 1659.9Q1053.7 1679 1079.8 1700.7M1025.5 1662.1Q1050.1 1681.7 1075.4 1705.2M1023.1 1665.5Q1047 1686.5 1074.7 1707.6M1020.4 1667.5Q1047.6 1688.9 1072.4 1710.2M1019.2 1668.1Q1044.7 1689.1 1071.7 1713M1018.2 1676.4Q1040.6 1693.9 1065.3 1715.7M1015.2 1675.6Q1039.8 1693.9 1065.8 1717.1M1015.2 1683.4Q1039.8 1704.3 1059.5 1721.5M1015.4 1682.9Q1039.4 1701.1 1058.7 1720.5M1014 1690.6Q1034.1 1708 1053.2 1721.2M1013.4 1692.3Q1030.7 1705.2 1051 1722.1M1018.8 1706.1Q1027.1 1715.2 1037.1 1722.9M1018 1704Q1030.4 1714 1040.4 1720.4" stroke="#868e96" stroke-width="1.2" fill="none"/><path d="M1037.6 1655.4C1041.1 1655.7 1052.5 1654.6 1058.7 1657.2C1065 1659.8 1072 1665.1 1075.3 1671.1C1078.6 1677 1079.6 1686 1078.6 1693C1077.6 1699.9 1074 1707.8 1069.2 1712.6C1064.4 1717.5 1056.6 1721.3 1049.9 1722C1043.3 1722.7 1034.7 1720.6 1029.2 1716.8C1023.7 1712.9 1019 1705.5 1016.9 1698.8C1014.7 1692.2 1014.2 1683.3 1016.4 1676.8C1018.5 1670.3 1024.2 1663.2 1029.8 1659.6C1035.5 1656.1 1047 1656.1 1050.4 1655.4M1051.7 1655.1C1054.5 1656.8 1064.4 1660 1068.5 1665.1C1072.6 1670.1 1075.6 1678.2 1076.3 1685.3C1077 1692.4 1076.1 1701.7 1072.9 1707.5C1069.7 1713.2 1062.7 1717.4 1057 1719.9C1051.2 1722.3 1043.9 1724.1 1038.3 1722.2C1032.8 1720.4 1026.8 1714.4 1023.4 1708.7C1020.1 1702.9 1018.1 1694.6 1018.3 1687.8C1018.5 1680.9 1021.1 1672.9 1024.7 1667.6C1028.4 1662.2 1034.4 1657.4 1040.1 1655.6C1045.8 1653.8 1055.8 1656.6 1059 1656.8" stroke="#000" stroke-width="2" fill="none" stroke-linecap="round" stroke-linejoin="round"/>
<path d="M1293.5 1679.7C1211.1 1678.5 1172.8 1678.2 1098.4 1678M1293.7 1680.5C1232.9 1680.4 1165.6 1680.2 1099.4 1679.9" stroke="#000" stroke-width="2" fill="none"/><path d="M1098.8 1678.4C1121.3 1670.9 1136.6 1665.9 1158.3 1658.9M1099.1 1679.6C1118.3 1672.5 1140.8 1664.7 1158.3 1659.2" stroke="#000" stroke-width="2" fill="none"/><path d="M1098.4 1679.6C1123.8 1688.5 1140.3 1694.4 1158.9 1701.1M1099.1 1678.3C1122.6 1687.1 1141.8 1694.3 1158.2 1700.6" stroke="#000" stroke-width="2" fill="none"/>
<text y="1687" fill="#000" stroke="#000" font-size="38"><tspan x="1315" textLength="335.8" lengthAdjust="spacingAndGlyphs" style="letter-spacing:1.35px">upstream/master</tspan></text>
<path d="M614.8 1729.8C672.8 1781.2 718.3 1823 770.5 1872.6M613.6 1730.5C676 1789.3 716.7 1826.4 769.9 1873.2" stroke="#000" stroke-width="2" fill="none"/>
<ellipse cx="803" cy="1903" rx="30.8" ry="32.8" fill="#868e96"/><path d="M807.1 1870.8C810.2 1872.3 821.3 1874.9 825.4 1879.8C829.6 1884.8 831.6 1893.6 831.9 1900.6C832.3 1907.5 830.9 1915.9 827.6 1921.6C824.3 1927.2 817.9 1932.4 811.9 1934.6C806 1936.9 798.1 1937.2 792.1 1935C786 1932.8 778.9 1927.4 775.7 1921.5C772.5 1915.5 771.8 1906.3 772.7 1899.4C773.7 1892.4 776.9 1884.6 781.3 1879.7C785.7 1874.8 792.9 1870.9 799.1 1870C805.3 1869.2 815.4 1873.8 818.6 1874.6M818.7 1873.5C820.8 1876.2 828.7 1883.7 831.2 1889.7C833.6 1895.8 834.8 1903.6 833.5 1909.9C832.2 1916.3 828.3 1924 823.5 1928C818.6 1932 810.6 1933.8 804.3 1933.8C798 1933.8 790.8 1931.8 785.6 1928.1C780.3 1924.5 774.8 1918.1 773 1911.9C771.1 1905.8 772.1 1897.3 774.4 1891.1C776.7 1884.8 781.5 1878.2 786.8 1874.7C792.2 1871.1 800.4 1868.8 806.6 1869.7C812.8 1870.5 821.1 1878 824 1879.6" stroke="#000" stroke-width="2" fill="none" stroke-linecap="round" stroke-linejoin="round"/>
<ellipse cx="1047.5" cy="1907" rx="31.3" ry="32.3" fill="#868e96"/><path d="M1032.6 1879.3C1036 1878.4 1046.6 1873 1052.9 1874.1C1059.2 1875.3 1065.9 1880.9 1070.3 1886.1C1074.6 1891.3 1078.4 1898.6 1078.9 1905.2C1079.4 1911.8 1077.1 1920.4 1073.3 1925.7C1069.5 1931.1 1062.4 1935.4 1056.2 1937.3C1049.9 1939.2 1041.9 1939.4 1035.8 1937.2C1029.7 1934.9 1022.8 1929.5 1019.6 1923.8C1016.3 1918 1015.4 1909.4 1016.4 1902.8C1017.4 1896.1 1020.9 1888.7 1025.5 1883.9C1030.2 1879.2 1041 1875.7 1044.2 1874M1045 1875.3C1048 1876.5 1058.2 1878.3 1063.1 1882.2C1068 1886 1072.5 1892.3 1074.2 1898.4C1076 1904.4 1075.6 1912.3 1073.7 1918.4C1071.9 1924.5 1067.9 1931.5 1063.1 1935.1C1058.2 1938.7 1050.6 1940.4 1044.6 1939.9C1038.5 1939.4 1031.5 1936.4 1027 1932.2C1022.5 1927.9 1018.6 1920.8 1017.4 1914.4C1016.2 1908 1017.1 1899.7 1019.8 1893.9C1022.5 1888.1 1028.2 1882.7 1033.6 1879.7C1039.1 1876.7 1049.4 1876.6 1052.6 1876" stroke="#000" stroke-width="2" fill="none" stroke-linecap="round" stroke-linejoin="round"/>
<ellipse cx="1313" cy="1901" rx="31.8" ry="33.3" fill="#868e96"/><path d="M1292.6 1875.8C1295.8 1874.3 1305.1 1867.4 1311.6 1867C1318.1 1866.6 1326.2 1869.4 1331.6 1873.4C1337 1877.4 1342.2 1884.5 1344 1891.1C1345.8 1897.7 1345 1906.7 1342.5 1913.1C1340 1919.5 1334.6 1925.8 1329 1929.5C1323.3 1933.1 1315 1935.8 1308.6 1934.8C1302.2 1933.8 1295.1 1928.7 1290.6 1923.5C1286 1918.3 1281.9 1910.7 1281.1 1903.7C1280.4 1896.8 1282.5 1887.7 1286.1 1881.9C1289.8 1876 1300.4 1870.8 1303.2 1868.6M1299.1 1869.5C1302.2 1869.3 1312.1 1866.6 1317.9 1868.1C1323.7 1869.6 1329.6 1873.5 1333.8 1878.5C1337.9 1883.5 1342 1891.2 1342.7 1898.1C1343.4 1905 1341.2 1914.1 1337.8 1919.9C1334.5 1925.7 1328.1 1931 1322.5 1933.1C1316.9 1935.2 1309.8 1934.4 1304.1 1932.4C1298.4 1930.3 1291.8 1926.2 1288.3 1920.7C1284.7 1915.2 1282.5 1906.2 1282.9 1899.3C1283.4 1892.4 1287 1884.5 1290.9 1879.3C1294.8 1874.1 1303.9 1870 1306.5 1868.1" stroke="#000" stroke-width="2" fill="none" stroke-linecap="round" stroke-linejoin="round"/>
<path d="M857.1 1912.3C914.9 1910.4 953.1 1909.5 993 1909.1M856.8 1913.8C913.1 1912.9 956.3 1912.3 992.9 1911.9" stroke="#000" stroke-width="2" fill="none"/>
<path d="M1109.7 1911.3C1152.9 1909.9 1195.7 1908.9 1243.3 1908.1M1109.1 1911.5C1150.6 1910.6 1197.6 1909.8 1244.7 1909.3" stroke="#000" stroke-width="2" fill="none"/>
<path d="M1515.9 1902.5C1461.1 1902.4 1408.5 1901.9 1368.8 1901M1515.7 1903.4C1466.5 1903 1406.8 1903 1368.3 1903.4" stroke="#000" stroke-width="2" fill="none"/><path d="M1368.9 1901.5C1389.4 1893.3 1412.1 1884.3 1429.7 1877.4M1368.3 1902.3C1394.3 1892 1411.1 1885.2 1430.3 1877.4" stroke="#000" stroke-width="2" fill="none"/><path d="M1368.4 1902.5C1392.9 1909.4 1406.7 1913.4 1429.6 1920.1M1368.3 1901.4C1388 1906.8 1414 1914.5 1430.6 1919.8" stroke="#000" stroke-width="2" fill="none"/>
<text y="1915" fill="#000" stroke="#000" font-size="38"><tspan x="1535.1" textLength="184.9" lengthAdjust="spacingAndGlyphs" style="letter-spacing:-0.4px">my-branch</tspan></text>
<text y="2142" fill="#000" stroke="#000" font-size="38"><tspan x="48.3" textLength="46.7" lengthAdjust="spacingAndGlyphs" style="letter-spacing:0.77px">git</tspan> <tspan x="116.9" textLength="133.9" lengthAdjust="spacingAndGlyphs" style="letter-spacing:0.92px">rebase</tspan> <tspan x="268.4" textLength="337" lengthAdjust="spacingAndGlyphs" style="letter-spacing:1.42px">upstream/master</tspan> <tspan x="623.8" textLength="26.6" lengthAdjust="spacingAndGlyphs" style="letter-spacing:1.55px">-i</tspan></text>
<path d="M182.3 2215.9C583.7 2216 841.7 2216 1077.9 2215.9M183.2 2214.7C545.5 2214.9 747.9 2214.9 1077.3 2214.6" stroke="#000" stroke-width="2" fill="none"/><path d="M1076.7 2215.4C1077 2275.3 1077.1 2342.8 1077 2393.3M1078.2 2215.2C1078.2 2289.3 1078.1 2326.7 1077.7 2393.3" stroke="#000" stroke-width="2" fill="none"/><path d="M1078.2 2393.7C718.1 2393.5 520.2 2393.4 182 2393.6M1077.6 2392.1C703.2 2391.8 476.8 2391.9 183.5 2392.5" stroke="#000" stroke-width="2" fill="none"/><path d="M182.1 2393.6C182.6 2324.4 182.6 2264.9 182.3 2215M183.6 2392.9C183.3 2327 183.4 2265 183.8 2214.9" stroke="#000" stroke-width="2" fill="none"/>
<text y="2261" fill="#0b7285" stroke="#0b7285" font-size="38"><tspan x="197.7" textLength="128.5" lengthAdjust="spacingAndGlyphs" style="letter-spacing:0.11px">reword</tspan> <tspan x="347.4" textLength="221.9" lengthAdjust="spacingAndGlyphs" style="letter-spacing:1.28px">249578bbd</tspan> <tspan x="583.4" textLength="104.9" lengthAdjust="spacingAndGlyphs" style="letter-spacing:0.9px">Local</tspan> <tspan x="707.4" textLength="121.4" lengthAdjust="spacingAndGlyphs" style="letter-spacing:-0.4px">commit</tspan> <tspan x="847.8" textLength="18" lengthAdjust="spacingAndGlyphs">1</tspan></text>
<text y="2311" fill="#0b7285" stroke="#0b7285" font-size="38"><tspan x="199.9" textLength="93.4" lengthAdjust="spacingAndGlyphs" style="letter-spacing:0.93px">fixup</tspan> <tspan x="312.7" textLength="212.9" lengthAdjust="spacingAndGlyphs" style="letter-spacing:1.78px">7c0d4996f</tspan> <tspan x="543.5" textLength="103" lengthAdjust="spacingAndGlyphs" style="letter-spacing:0.56px">Local</tspan> <tspan x="667" textLength="121.9" lengthAdjust="spacingAndGlyphs" style="letter-spacing:-0.4px">commit</tspan> <tspan x="813.4" textLength="26.5" lengthAdjust="spacingAndGlyphs">2</tspan></text>
<text y="2361" fill="#0b7285" stroke="#0b7285" font-size="38"><tspan x="199.9" textLength="93.4" lengthAdjust="spacingAndGlyphs" style="letter-spacing:0.93px">fixup</tspan> <tspan x="311.1" textLength="216.6" lengthAdjust="spacingAndGlyphs" style="letter-spacing:2.16px">d456f0c67</tspan> <tspan x="543.5" textLength="106.2" lengthAdjust="spacingAndGlyphs" style="letter-spacing:1.13px">Local</tspan> <tspan x="668.6" textLength="121.3" lengthAdjust="spacingAndGlyphs" style="letter-spacing:-0.4px">commit</tspan> <tspan x="813.4" textLength="26.5" lengthAdjust="spacingAndGlyphs">3</tspan></text>
<path d="M181.7 2419.6C486.5 2419.6 836.6 2419.5 1084 2419.1M181.5 2417.6C548 2418.1 775.4 2418.4 1083 2418.5" stroke="#000" stroke-width="2" fill="none"/><path d="M1083.8 2418.6C1083.4 2554.9 1083.4 2614 1083.6 2743.9M1083 2418.7C1083.1 2532.6 1083.2 2624.2 1083.2 2743.8" stroke="#000" stroke-width="2" fill="none"/><path d="M1082.9 2745.1C728.1 2745.3 492 2745.2 182.5 2744.9M1082.7 2743.7C693.3 2743.4 412.5 2743.5 182 2743.8" stroke="#000" stroke-width="2" fill="none"/><path d="M181 2745C181.3 2624.5 181.3 2508.9 180.8 2417.7M182.5 2744.9C182.7 2601.7 182.8 2505.5 183.1 2418.8" stroke="#000" stroke-width="2" fill="none"/>
<text y="2486" fill="#0b7285" stroke="#0b7285" font-size="38"><tspan x="201.9" textLength="57.4" lengthAdjust="spacingAndGlyphs" style="letter-spacing:0.5px">Fix</tspan> <tspan x="278.2" textLength="91.3" lengthAdjust="spacingAndGlyphs" style="letter-spacing:-0.4px">some</tspan> <tspan x="388.1" textLength="66" lengthAdjust="spacingAndGlyphs" style="letter-spacing:-0.4px">bug</tspan></text>
<text y="2586" fill="#0b7285" stroke="#0b7285" font-size="38"><tspan x="201.9" textLength="181.4" lengthAdjust="spacingAndGlyphs" style="letter-spacing:-0.22px">Resolves:</tspan> <tspan x="402.7" textLength="130" lengthAdjust="spacingAndGlyphs" style="letter-spacing:2.51px">#9999</tspan></text>
<text y="2686" fill="#0b7285" stroke="#0b7285" font-size="38"><tspan x="205" textLength="191.5" lengthAdjust="spacingAndGlyphs" style="letter-spacing:0.79px">signed-off</tspan> <tspan x="412.9" textLength="53.6" lengthAdjust="spacingAndGlyphs" style="letter-spacing:-0.4px">by:</tspan> <tspan x="484.4" textLength="187.4" lengthAdjust="spacingAndGlyphs" style="letter-spacing:-0.4px">your-name</tspan> <tspan x="693.9" textLength="377.1" lengthAdjust="spacingAndGlyphs" style="letter-spacing:-0.4px">youremail@email.com</tspan></text>
<path d="M98.8 3009.6C171.5 3011.4 225.9 3011.9 293 3011.2M100.8 3012.5C183.4 3013.8 235.9 3014.2 291.2 3013.9" stroke="#000" stroke-width="2" fill="none"/>
<path d="M363.8 3014.1C441.3 3014.9 489.4 3015 559.4 3014.4M363.3 3015.9C442.7 3017.5 493.2 3018 560.9 3017.6" stroke="#000" stroke-width="2" fill="none"/>
<path d="M648.3 3022.6C701.3 3021.6 729 3021.4 777.4 3021.7M646.7 3024.9C691.4 3024.1 742.4 3023.8 775.7 3024.3" stroke="#000" stroke-width="2" fill="none"/>
<path d="M32.1 3010Q43.2 2996.9 55.4 2979.2M31.6 3010.3Q46.1 2995.5 57.2 2979.4M33.1 3021.5Q50.7 3000.7 67.7 2978.2M34.3 3021.9Q50.6 2999.6 66.6 2979.4M36.5 3031.4Q55.6 3005.4 74 2980.9M38.4 3030Q56.7 3005.6 74.6 2978.7M41.8 3037.9Q62.3 3012.7 81.4 2982.9M42.4 3037.6Q65 3011.6 83.2 2983.2M47.4 3042.5Q69.3 3015 87.6 2987.2M47.7 3042.1Q67.6 3012.4 89.2 2987M54.4 3045.9Q73.3 3020.5 93.2 2994.3M53.8 3045.9Q71.9 3021.3 93.5 2995.1M62.9 3047.8Q81.8 3026.2 97.5 3003.1M64 3045.7Q81 3023.2 96.9 3003M72.3 3046.9Q83.4 3026.9 97.2 3011M72.5 3047.3Q86.6 3027.2 98.6 3011.4" stroke="#868e96" stroke-width="1.2" fill="none"/><path d="M40.5 2993.1C43.2 2990.9 50.6 2981.8 56.8 2979.7C63 2977.7 71.4 2978.2 77.6 2980.9C83.7 2983.6 90.6 2989.6 93.6 2995.8C96.6 3002 96.5 3011.1 95.4 3018.3C94.3 3025.4 91.8 3034.2 87.1 3038.9C82.4 3043.6 73.9 3045.9 67.4 3046.2C60.8 3046.6 53.2 3044.6 47.8 3040.7C42.3 3036.9 36.7 3029.9 34.7 3023.3C32.7 3016.6 33.6 3007.3 36 3000.7C38.4 2994.1 47 2986.4 49.2 2983.6M45.8 2986.7C49.1 2985.7 59.2 2980.5 65.9 2980.6C72.5 2980.7 80.6 2983 85.6 2987.2C90.7 2991.3 94.6 2998.9 96.2 3005.4C97.7 3011.9 97.1 3019.8 94.8 3026.1C92.5 3032.3 87.9 3039.7 82.4 3043.1C77 3046.4 68.5 3047.1 62 3046.1C55.6 3045.1 48.5 3041.8 43.7 3037.2C38.9 3032.6 34 3025.2 33.2 3018.6C32.3 3012.1 35.1 3003.6 38.5 2997.9C41.9 2992.2 51.2 2986.6 53.7 2984.4" stroke="#000" stroke-width="2" fill="none" stroke-linecap="round" stroke-linejoin="round"/>
<path d="M295.6 3004.5Q304.3 2989.5 317.4 2975.8M294.4 3005.2Q305.7 2989.8 316.2 2975.2M296.4 3017.5Q310 2993.9 327.5 2973.6M296.1 3016Q314.2 2995.4 329.5 2971.9M299.5 3024.9Q317.5 3001.9 337.6 2976M297.4 3026.4Q316.6 2999.7 337.2 2973.7M304 3033.3Q324.8 3006.5 344.2 2979M303.1 3032.2Q324 3005.5 343 2979.5M309.3 3037.8Q328.4 3013 348.8 2984.3M308.7 3035.9Q330.7 3011.7 348.8 2982.8M316 3040.2Q335.7 3017.1 353.9 2989.7M315.1 3040.3Q336.4 3016.3 355.1 2990.1M324.4 3042.5Q341.5 3019.6 356.3 2996.4M322 3043.5Q341.7 3018.5 358.6 2996.4M334.5 3043Q346.2 3027 358.3 3008.4M334.5 3040.6Q348.1 3022.2 358 3007.8" stroke="#868e96" stroke-width="1.2" fill="none"/><path d="M313.8 2976.4C317.1 2976 327.7 2972.3 333.8 2973.9C340 2975.5 346.7 2980.5 350.7 2986.2C354.7 2991.8 357.8 3000.3 358 3007.5C358.2 3014.8 356 3024.1 352.2 3029.7C348.3 3035.3 341.1 3039.3 335 3041.1C328.8 3042.9 321.1 3043.2 315.4 3040.5C309.6 3037.9 303.4 3031.6 300.3 3025.2C297.2 3018.8 295.6 3009.3 296.8 3002.1C297.9 2995 302.4 2986.8 307.2 2982.1C312 2977.4 322.6 2975.2 325.7 2973.9M321.6 2975C324.9 2975.6 335.8 2975.4 341.4 2978.6C347 2981.9 352.9 2988.4 355.1 2994.6C357.3 3000.8 356.4 3009.2 354.8 3015.8C353.2 3022.4 350 3029.7 345.3 3034C340.6 3038.4 332.9 3041.7 326.7 3041.7C320.5 3041.7 313.4 3038.2 308.3 3034.1C303.2 3030.1 298 3023.8 296.1 3017.5C294.3 3011.1 294.8 3002.2 297.2 2996C299.6 2989.9 305.1 2984.1 310.4 2980.5C315.8 2976.8 326.3 2975.3 329.4 2974.3" stroke="#000" stroke-width="2" fill="none" stroke-linecap="round" stroke-linejoin="round"/>
<path d="M567.3 3016Q580.2 3000 590.4 2988.7M567.5 3016.5Q578.1 3001.2 588.9 2986.1M569 3029.8Q584.4 3007.9 599.6 2984.7M567.8 3028.8Q586.8 3005 602 2985.4M571.4 3035.2Q591.3 3011.5 608.3 2987.4M571.6 3036.8Q590.9 3012.2 608.4 2987M574.2 3042.6Q595.9 3017.2 615.6 2989.3M575.6 3044Q595.4 3017.4 615 2989M579.2 3048.6Q599.2 3019.9 621.4 2993.2M579.4 3047.5Q598.3 3018.5 620.3 2993.8M586.2 3051.9Q607.4 3027.7 623.8 2999.3M585.9 3050.3Q603.5 3022.9 625.3 3000.3M593 3054Q611.6 3028.4 627.1 3007.3M592.7 3053Q611.5 3030.8 627.4 3005.1M600 3053.3Q615.5 3034.3 629.4 3015.6M600.6 3055Q617.4 3032 631.1 3013.9M611.6 3051.4Q618.1 3041.2 629.7 3028.2M611.3 3050.9Q617.8 3040.4 628.9 3026.4" stroke="#868e96" stroke-width="1.2" fill="none"/><path d="M583 2990.9C586.1 2990.1 595.5 2985.5 601.6 2986.1C607.7 2986.6 615.4 2989.4 619.7 2994.1C624.1 2998.9 626.8 3007.4 627.8 3014.6C628.7 3021.8 628.3 3030.9 625.4 3037.2C622.4 3043.5 615.9 3049.8 610 3052.3C604.1 3054.8 596.1 3054.4 590.1 3052.2C584.1 3050 577.3 3045.1 573.8 3039.2C570.2 3033.4 568.3 3024.3 568.7 3017.1C569.2 3009.9 572.2 3001.2 576.3 2996C580.5 2990.9 590.9 2987.7 593.8 2986M589.3 2987.7C592.6 2987.8 603.5 2986.1 609.6 2988.3C615.6 2990.5 622.2 2995.4 625.6 3000.8C629 3006.2 630.2 3014.2 630 3020.8C629.7 3027.5 628.2 3035.9 624.2 3040.8C620.2 3045.7 612.5 3049 606.2 3050.2C600 3051.4 592.3 3050.8 586.7 3048.1C581.1 3045.3 575.7 3039.6 572.6 3033.8C569.5 3028 567.1 3019.6 568.3 3013.3C569.4 3007 574.8 3000.6 579.6 2996.1C584.4 2991.6 594.2 2987.8 597.1 2986.2" stroke="#000" stroke-width="2" fill="none" stroke-linecap="round" stroke-linejoin="round"/>
<path d="M797.8 3019.7Q808 3002.1 822.6 2985.6M795.7 3019.7Q807.7 3002.9 824 2985.6M798.7 3029.3Q816.5 3010.9 834.9 2988.6M797.3 3028.9Q818.2 3009.3 834.3 2985.9M801 3036.9Q822.1 3011 840.4 2989M800.1 3037Q822.2 3011.3 840.9 2989.9M805.7 3043.7Q823.7 3017.7 846.3 2991.9M805.9 3041.5Q826.4 3014.2 846.1 2991.2M808.5 3049.5Q831.2 3021.5 853.5 2996.7M808.9 3048.8Q831 3024.3 851.4 2996M814.6 3053.1Q837 3029.5 858 3002M816.7 3053.5Q834.9 3026.8 855.5 3005.1M821.7 3054Q840 3030.2 858.4 3010.2M822.3 3054.5Q842.7 3034.4 858.9 3010.3M828.9 3054.1Q843.1 3035.8 859.9 3019M828.9 3055.3Q845.3 3039.2 860.7 3018.2M843.3 3049.8Q850.9 3041.1 858.2 3032.2M843.1 3049.9Q853 3043.3 858.4 3033.7M842.6 2988.3Q845.7 2995.5 853 3000.6M842.1 2988.9Q849.5 2996.5 853.9 3000M828 2985.1Q845.2 2998.4 860.7 3015.3M826.8 2986.3Q841.9 3001.8 861.6 3013.7M818.9 2989.4Q840 3006.5 858.9 3024.1M819.6 2987.9Q840 3005.7 862.4 3025.4M810.5 2990.2Q834.2 3008.5 858.1 3031M811.6 2993.2Q834.4 3014.7 860.1 3032.2M806.9 2995.5Q834.7 3017.6 857.7 3037M805.3 2995Q831.2 3018.2 856.4 3038.6M804.1 3000.1Q829 3022.2 854.2 3043.8M802.5 3000.5Q827.5 3023.6 853.3 3042.6M798.1 3007.9Q822.8 3025.7 848.4 3047.7M800.5 3009.6Q822.2 3027.6 846.6 3049.2M799.1 3017.4Q820.8 3037.3 839.3 3052.7M798.9 3015Q818.5 3031.3 841.6 3051.7M796.8 3026.1Q814.8 3040.7 833.5 3055.4M797.6 3026.1Q815.2 3040.3 832.3 3055.1M800.6 3037.7Q811.8 3046.3 821.6 3055.6M803.1 3037.3Q810.1 3046.9 821.5 3054.7" stroke="#868e96" stroke-width="1.2" fill="none"/><path d="M812.5 2992.9C815.8 2991.9 825.9 2986.4 832.4 2987C838.8 2987.6 846.7 2991.4 851.2 2996.2C855.8 3001.1 859.1 3009.3 859.8 3016.1C860.6 3022.9 858.9 3031 855.8 3037.1C852.8 3043.2 847.3 3049.8 841.5 3052.6C835.6 3055.3 826.7 3055.8 820.7 3053.7C814.7 3051.5 809.2 3045.2 805.5 3039.4C801.7 3033.7 797.8 3025.9 798 3019.1C798.2 3012.4 802.2 3004.2 806.6 2999.1C810.9 2994 821.2 2990.5 824.2 2988.7M821.5 2990.6C824.7 2990.8 834.9 2989.7 840.7 2992.1C846.5 2994.4 853.3 2999.1 856.5 3004.7C859.6 3010.2 860.5 3018.9 859.7 3025.5C858.9 3032.2 856 3040.3 851.6 3044.8C847.3 3049.3 839.8 3051.7 833.6 3052.6C827.5 3053.4 820.2 3052.7 814.7 3049.7C809.3 3046.7 803.4 3040.7 801 3034.7C798.5 3028.7 798.4 3020.1 800 3013.7C801.6 3007.2 805.7 3000.1 810.5 2996.1C815.4 2992.1 825.9 2990.6 828.9 2989.5" stroke="#000" stroke-width="2" fill="none" stroke-linecap="round" stroke-linejoin="round"/>
<path d="M876.3 3021.6C939.8 3019 978.5 3017.6 1019.2 3016.3M877.7 3023C927.2 3022.2 969.2 3021 1021 3018.9" stroke="#000" stroke-width="2" fill="none"/>
<path d="M1035.4 3000.6Q1038.1 2993.2 1043.9 2990.7M1035.1 3000.2Q1036 2992.8 1041.8 2988.8M1028.4 3015.5Q1045.2 2997.5 1057 2984.2M1028.8 3018Q1043.4 3000.2 1059.6 2982.2M1030.8 3025.7Q1046.2 3002.1 1065.7 2982M1029.7 3026.2Q1049.9 3005.6 1067.3 2982.7M1033.7 3032.1Q1052.2 3007.2 1075.2 2985.8M1034.4 3032.8Q1055.9 3010.2 1074.5 2984.6M1037.5 3037.8Q1060.2 3012.5 1080.1 2989.8M1035.7 3039.5Q1056.1 3013.9 1079.6 2987.4M1042 3042.8Q1062.8 3018.8 1083.3 2992.6M1039.8 3044.5Q1062.2 3019.3 1083.2 2992.1M1048.8 3046.9Q1067.2 3021.4 1087.9 2999.3M1046.4 3048.9Q1070.4 3025.7 1089.8 2999.5M1053.2 3051.4Q1069.6 3026.4 1090.2 3005.8M1053.9 3049.4Q1073.4 3026.6 1093.3 3006.8M1061.2 3051.9Q1077.3 3034.3 1093.1 3014M1059.8 3050.2Q1075.2 3032.6 1093.1 3013.2M1070.2 3050.3Q1081.5 3037.3 1094 3024.8M1072.4 3052Q1082.8 3037.9 1093.7 3022.4M1074.9 2984.1Q1080.4 2989 1087.8 2998.1M1074.3 2986.5Q1080.5 2989.3 1087.7 2996.2M1057.2 2982.6Q1073.9 2994.7 1094.4 3011.1M1057.6 2983.5Q1074.5 2998.7 1094.6 3011.2M1050.1 2984.1Q1069.4 3002.5 1092.7 3023.2M1051.5 2986.9Q1075.6 3004.7 1095 3021.4M1044.3 2989.7Q1067 3010.9 1092.8 3027.5M1043 2990.1Q1066 3008.9 1091.4 3028M1037.4 2995.5Q1063.9 3014.5 1088 3035M1037.5 2994Q1064 3013.3 1089.8 3037.5M1034.8 3001.9Q1062 3023.3 1085.8 3041.5M1033.6 2999.9Q1058 3018.8 1083.7 3041.6M1033.3 3006.5Q1057.7 3025.9 1079.6 3047.8M1033.3 3007.9Q1058.3 3029.1 1080.8 3047.3M1030.9 3013.8Q1052.6 3030.3 1074 3048.5M1031.5 3013.6Q1054.6 3030.5 1074 3051M1031.8 3025.3Q1049.6 3038 1063.7 3050.1M1030.8 3024.1Q1049.3 3037 1064.2 3052.8M1036 3037.1Q1043.8 3040.8 1048.7 3047.2M1035.3 3036.9Q1042.6 3041.9 1050.2 3047.9" stroke="#868e96" stroke-width="1.2" fill="none"/><path d="M1065.7 2983.5C1068.8 2985 1079.7 2987.4 1084.2 2992.2C1088.8 2997.1 1092.3 3005.7 1092.9 3012.8C1093.5 3019.8 1091.2 3028.2 1087.9 3034.4C1084.7 3040.5 1079.2 3047.2 1073.5 3049.7C1067.7 3052.2 1059.3 3052 1053.4 3049.6C1047.6 3047.3 1041.9 3041.5 1038.4 3035.6C1034.9 3029.8 1032.1 3021.7 1032.4 3014.7C1032.6 3007.7 1035.6 2998.9 1039.8 2993.7C1044 2988.6 1051.5 2984.7 1057.7 2983.7C1063.9 2982.6 1073.9 2986.9 1077.1 2987.5M1074.6 2985.7C1077 2988.2 1086.2 2994.6 1089 3000.5C1091.8 3006.4 1092 3014.4 1091.1 3021C1090.2 3027.6 1088 3035.8 1083.6 3040.2C1079.3 3044.6 1071.4 3046.5 1065.1 3047.2C1058.8 3047.8 1051.2 3047.2 1045.9 3044.1C1040.6 3040.9 1035.8 3034.2 1033.5 3028C1031.1 3021.9 1030.2 3013.6 1031.8 3007.3C1033.5 3001.1 1038.5 2994.3 1043.6 2990.5C1048.6 2986.8 1055.9 2984.9 1062.1 2985C1068.3 2985 1077.6 2989.9 1080.7 2990.8" stroke="#000" stroke-width="2" fill="none" stroke-linecap="round" stroke-linejoin="round"/>
<path d="M1118.9 3016.2C1174.8 3016.4 1238.8 3016.7 1279 3017.2M1119 3019.7C1175.9 3020 1234.5 3020 1278.3 3019.8" stroke="#000" stroke-width="2" fill="none"/>
<ellipse cx="1329.2" cy="3019.4" rx="31" ry="32.5" fill="#82c91e"/><path d="M1330.2 2986.2C1333.1 2987.8 1343.1 2991.2 1347.8 2995.9C1352.5 3000.5 1357.2 3007.4 1358.3 3013.9C1359.4 3020.4 1357.3 3028.9 1354.4 3034.8C1351.4 3040.7 1346 3046.3 1340.6 3049.2C1335.1 3052.1 1327.5 3053.5 1321.4 3052C1315.4 3050.6 1308.2 3046.1 1304.3 3040.7C1300.4 3035.3 1297.9 3026.6 1298 3019.6C1298.1 3012.7 1301.1 3004.3 1305.1 2999C1309.1 2993.6 1316 2988.7 1322.1 2987.4C1328.1 2986 1338.2 2990.3 1341.4 2990.9M1342.9 2990.2C1345.2 2992.7 1353.8 2999.1 1356.6 3004.8C1359.5 3010.5 1361.2 3018.4 1360.1 3024.5C1359 3030.6 1354.6 3037.4 1350 3041.6C1345.4 3045.7 1338.5 3049 1332.4 3049.6C1326.3 3050.2 1318.6 3048.6 1313.4 3045.3C1308.1 3042 1303 3035.8 1300.8 3030C1298.7 3024.1 1298.4 3015.9 1300.4 3010C1302.3 3004.1 1307.3 2998 1312.3 2994.6C1317.4 2991.1 1324.5 2989 1330.6 2989.2C1336.7 2989.3 1345.8 2994.3 1348.8 2995.3" stroke="#5c940d" stroke-width="2" fill="none" stroke-linecap="round" stroke-linejoin="round"/>
<path d="M1265.9 2892C1193 2923.3 1138.7 2946.8 1087.3 2969.1M1265.9 2893.2C1200.4 2921 1156.5 2940.1 1087.8 2970.6" stroke="#000" stroke-width="2" fill="none"/><path d="M1087.3 2969.6C1103.9 2956 1118.1 2943.9 1135.8 2928.5M1087.6 2970.5C1103.2 2956.3 1118.6 2943 1136 2928.6" stroke="#000" stroke-width="2" fill="none"/><path d="M1087.7 2970.6C1113.3 2968.3 1128.7 2967.2 1153.6 2965.7M1087.2 2969.6C1110.5 2968 1133.5 2966.5 1153.1 2965.3" stroke="#000" stroke-width="2" fill="none"/>
<path d="M1552.9 3019.1C1479.8 3019.1 1417.7 3019.4 1370.9 3019.9M1553.4 3018.2C1480.2 3018 1433.2 3018 1371.2 3018.2" stroke="#000" stroke-width="2" fill="none"/><path d="M1370.5 3018.6C1395.3 3009.4 1413.1 3003 1427.8 2998.2M1371.3 3019.4C1395 3010.6 1408 3005.8 1427.8 2998.3" stroke="#000" stroke-width="2" fill="none"/><path d="M1370.7 3019.4C1394.7 3027.8 1410.2 3033.5 1427.3 3040.4M1370.7 3018.4C1389.9 3025.1 1411.6 3033.2 1428.1 3039.8" stroke="#000" stroke-width="2" fill="none"/>
<text y="2882.5" fill="#000" stroke="#000" font-size="38"><tspan x="1288" textLength="336.4" lengthAdjust="spacingAndGlyphs" style="letter-spacing:1.38px">upstream/master</tspan></text>
<text y="3032" fill="#000" stroke="#000" font-size="38"><tspan x="1571.6" textLength="186" lengthAdjust="spacingAndGlyphs" style="letter-spacing:-0.4px">my-branch</tspan></text>
<text y="3220" fill="#000" stroke="#000" font-size="38"><tspan x="48.1" textLength="50.4" lengthAdjust="spacingAndGlyphs" style="letter-spacing:1.9px">git</tspan> <tspan x="117.9" textLength="86.1" lengthAdjust="spacingAndGlyphs" style="letter-spacing:-0.4px">push</tspan> <tspan x="222.9" textLength="97.4" lengthAdjust="spacingAndGlyphs" style="letter-spacing:-0.4px">origin</tspan></text>
<text y="3352" fill="#000" stroke="#000" font-size="38"><tspan x="48" textLength="55.3" lengthAdjust="spacingAndGlyphs" style="letter-spacing:-0.4px">PR</tspan></text>
</svg>
</body>
</html>
